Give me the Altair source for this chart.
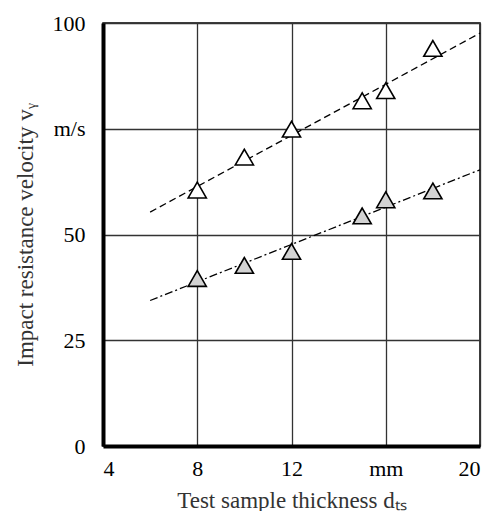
import altair as alt
import pandas as pd

thickness = [8, 10, 12, 15, 16, 18]
v_white = [60.5, 68.3, 74.9, 81.6, 84.0, 94.0]
v_gray = [39.6, 42.7, 46.0, 54.4, 58.2, 60.3]
trend_x = [6, 20]
trend_white = [55.3, 97.6]
trend_gray = [34.4, 65.3]

pts = pd.DataFrame({
    "x": thickness * 2,
    "y": v_white + v_gray,
    "s": ["white"] * len(thickness) + ["gray"] * len(thickness),
})
tw = pd.DataFrame({"x": trend_x, "y": trend_white})
tg = pd.DataFrame({"x": trend_x, "y": trend_gray})

FONT = "Liberation Serif"

xsc = alt.Scale(domain=[4, 20], nice=False, zero=False)
ysc = alt.Scale(domain=[0, 100], nice=False)

xax = alt.Axis(values=[4, 8, 12, 16, 20], labelExpr="datum.value == 16 ? 'mm' : datum.label",
               title="Test sample thickness d\u209c\u209b", grid=True, ticks=False,
               domainWidth=4, domainColor="black", labelPadding=12, titlePadding=10)
yax = alt.Axis(values=[0, 25, 50, 75, 100], labelExpr="datum.value == 75 ? 'm/s' : datum.label",
               title="Impact resistance velocity v\u1d67", grid=True, ticks=False,
               domainWidth=4, domainColor="black", labelPadding=18, titlePadding=15)

line_w = alt.Chart(tw).mark_line(color="black", strokeWidth=1.3, strokeDash=[7, 4]).encode(
    x=alt.X("x:Q", scale=xsc, axis=xax), y=alt.Y("y:Q", scale=ysc, axis=yax))
line_g = alt.Chart(tg).mark_line(color="black", strokeWidth=1.3, strokeDash=[8, 3, 2, 3]).encode(
    x=alt.X("x:Q", scale=xsc), y=alt.Y("y:Q", scale=ysc))
points = alt.Chart(pts).mark_point(shape="triangle-up", filled=True, size=330, stroke="black",
                                   strokeWidth=1.6, opacity=1).encode(
    x=alt.X("x:Q", scale=xsc), y=alt.Y("y:Q", scale=ysc),
    fill=alt.Fill("s:N", scale=alt.Scale(domain=["white", "gray"], range=["#ffffff", "#d3d3d3"]), legend=None))

chart = (line_w + line_g + points).properties(
    width=377, height=423,
    padding={"left": 95, "top": 15, "right": 15, "bottom": 65},
    autosize=alt.AutoSizeParams(type="none"),
).configure_view(stroke="black", strokeWidth=1.5).configure_axis(
    labelFont=FONT, titleFont=FONT, labelFontSize=22, titleFontSize=23,
    labelColor="black", titleColor="#333333", titleFontWeight="normal",
    gridColor="#333333", gridWidth=1.3,
)

chart.save("out.html", embed_options={"renderer": "svg", "actions": False})
